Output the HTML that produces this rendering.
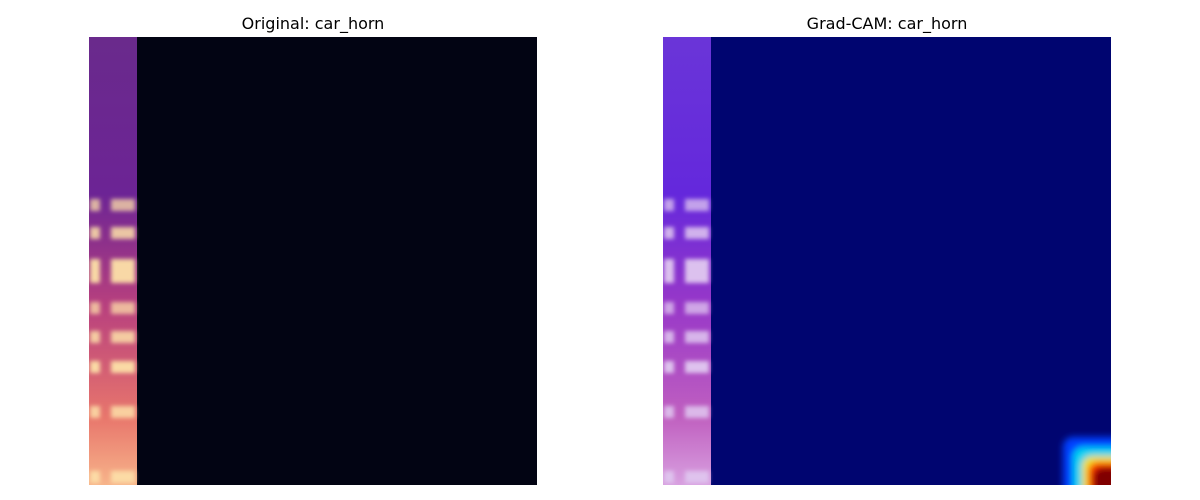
<!DOCTYPE html>
<html><head><meta charset="utf-8"><style>
body{margin:0;background:#fff;}
svg{display:block;}
text{font-family:"DejaVu Sans","Liberation Sans",sans-serif;font-size:16px;fill:#000;}
</style></head><body>
<svg id="fig" width="1200" height="500">
<defs>
<linearGradient id="magma" x1="0" y1="0" x2="0" y2="1">
<stop offset="0" stop-color="#6a2a8c"/><stop offset="0.35" stop-color="#6c2495"/>
<stop offset="0.6" stop-color="#b8407e"/><stop offset="0.85" stop-color="#e8766c"/><stop offset="1" stop-color="#f7b48a"/>
</linearGradient>
<linearGradient id="overlay" x1="0" y1="0" x2="0" y2="1">
<stop offset="0" stop-color="#6a35d8"/><stop offset="0.35" stop-color="#6428dc"/>
<stop offset="0.6" stop-color="#9838c8"/><stop offset="0.85" stop-color="#c060c0"/><stop offset="1" stop-color="#d8a0e0"/>
</linearGradient>
<filter id="blur1"><feGaussianBlur stdDeviation="2"/></filter>
<filter id="blur2"><feGaussianBlur stdDeviation="3.5"/></filter>
<clipPath id="clipL"><rect x="89" y="37" width="448" height="448"/></clipPath>
<clipPath id="clipR"><rect x="663" y="37" width="448" height="448"/></clipPath>
</defs>
<text x="313" y="29" text-anchor="middle">Original: car_horn</text>
<text x="887" y="29" text-anchor="middle">Grad-CAM: car_horn</text>
<g clip-path="url(#clipL)">
<rect x="89" y="37" width="448" height="448" fill="#020413"/>
<rect x="89" y="37" width="48" height="448" fill="url(#magma)"/>
<g id="bandsL" filter="url(#blur1)"></g>
</g>
<g clip-path="url(#clipR)">
<rect x="663" y="37" width="448" height="448" fill="#000570"/>
<rect x="663" y="37" width="48" height="448" fill="url(#overlay)"/>
<g id="bandsR" filter="url(#blur1)"></g>
<g id="hot" filter="url(#blur2)"></g>
</g>
</svg>
<script>
// bright spectral bands (y in pixels of the 448px image, relative intensity)
const bandRows = [168, 196, 228, 240, 271, 300, 330, 375, 440];
const bandStrength = [0.75, 0.85, 0.95, 0.95, 0.75, 0.85, 0.95, 0.85, 0.9];
// heat levels (jet) from outer to inner, and extent from corner in px
const heatColors = ["#0040ff", "#00d0f0", "#f0e020", "#ff3000", "#800000"];
const heatExtent = [48, 38, 29, 23, 18];
const ns = "http://www.w3.org/2000/svg";
function drawBands(gid, x0, col) {
  const g = document.getElementById(gid);
  bandRows.forEach((y, i) => {
    [[x0 + 1, 10], [x0 + 22, 24]].forEach(([x, w]) => {
      const r = document.createElementNS(ns, "rect");
      r.setAttribute("x", x); r.setAttribute("y", 37 + y - 6);
      r.setAttribute("width", w); r.setAttribute("height", 12);
      r.setAttribute("fill", col); r.setAttribute("opacity", bandStrength[i]);
      
      
      g.appendChild(r);
    });
  });
}
drawBands("bandsL", 89, "#fde0a8");
drawBands("bandsR", 663, "#e0c8f0");
const hot = document.getElementById("hot");
heatColors.forEach((c, i) => {
  const e = heatExtent[i];
  const r = document.createElementNS(ns, "rect");
  r.setAttribute("x", 1111 - e); r.setAttribute("y", 485 - e);
  r.setAttribute("width", e + 30); r.setAttribute("height", e + 30);
  r.setAttribute("rx", 10);
  r.setAttribute("fill", c);
  
  
  hot.appendChild(r);
});
</script>
</body></html>
